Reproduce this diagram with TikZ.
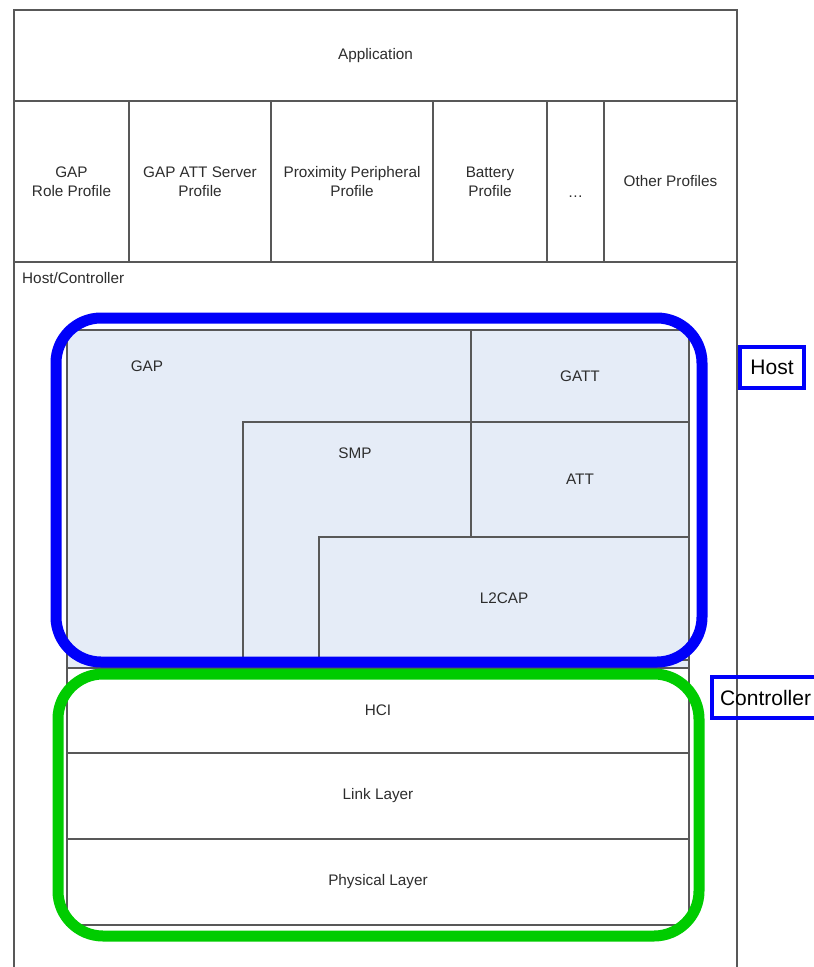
\documentclass[tikz,border=0pt]{standalone}
\usepackage{fontspec}
\setmainfont{Liberation Sans}
\usetikzlibrary{positioning}
\definecolor{framegray}{RGB}{88,88,88}
\definecolor{textgray}{RGB}{45,45,45}
\definecolor{hostfill}{RGB}{229,236,247}
\definecolor{hostblue}{RGB}{0,0,250}
\definecolor{ctrlgreen}{RGB}{0,204,0}

\begin{document}
\begin{tikzpicture}[x=1pt, y=-1pt,
  cell/.style={draw=framegray, line width=1.1pt, inner sep=0pt, outer sep=0pt, anchor=north west,
    font=\fontsize{15.3}{19}\selectfont, text=textgray, align=center, fill=white},
  hostcell/.style={cell, fill=hostfill},
  lbl/.style={font=\fontsize{15.3}{19}\selectfont, text=textgray, inner sep=0pt},
  ring/.style={line width=11pt, rounded corners=45pt},
  tagbox/.style={draw=hostblue, line width=4pt, inner sep=0pt, font=\fontsize{21}{24}\selectfont}
]
\useasboundingbox (0,0) rectangle (814,967);

% outer frame
\node[cell, minimum width=723pt, minimum height=708pt] (hc) at (14,262) {};
\node[lbl, anchor=west] (hclbl) at (22,278) {Host/Controller};

% application and profiles
\node[cell, minimum width=723pt, minimum height=91pt] (app) at (14,10) {Application};
\node[cell, minimum width=115pt, minimum height=161pt] (gaprole) at (14,101) {GAP\\Role Profile};
\node[cell, minimum width=142pt, minimum height=161pt] (gapatt) at (129,101) {GAP ATT Server\\Profile};
\node[cell, minimum width=162pt, minimum height=161pt] (prox) at (271,101) {Proximity Peripheral\\Profile};
\node[cell, minimum width=114pt, minimum height=161pt] (batt) at (433,101) {Battery\\Profile};
\node[cell, minimum width=57pt, minimum height=161pt] (more) at (547,101) {};
\node[lbl] (dots) at (575.5,197) {\dots};
\node[cell, minimum width=133pt, minimum height=161pt] (other) at (604,101) {Other Profiles};

% host layers
\node[hostcell, minimum width=622pt, minimum height=338pt] (gap) at (67,330) {};
\node[lbl] (gaplbl) at ([shift={(80,36)}]gap.north west) {GAP};
\node[hostcell, minimum width=218pt, minimum height=92pt] (gatt) at (471,330) {GATT};
\node[hostcell, minimum width=218pt, minimum height=115pt] (att) at (471,422) {ATT};
\node[hostcell, minimum width=228pt, minimum height=238pt] (smp) at (243,422) {};
\node[lbl] (smplbl) at ([shift={(112,31)}]smp.north west) {SMP};
\node[hostcell, minimum width=370pt, minimum height=123pt] (l2cap) at (319,537) {L2CAP};

% controller layers
\node[cell, minimum width=622pt, minimum height=85pt] (hci) at (67,668) {HCI};
\node[cell, minimum width=622pt, minimum height=86pt] (link) at (67,753) {Link Layer};
\node[cell, minimum width=622pt, minimum height=86pt] (phy) at (67,839) {Physical Layer};

% grouping rings and tags
\draw[ring, hostblue] (56,318) rectangle (702,662);
\draw[ring, ctrlgreen] (58,674) rectangle (699,936);
\node[tagbox, minimum width=64pt, minimum height=41pt] (hosttag) at (772,367.5) {Host};
\node[tagbox, anchor=west, inner xsep=8pt, minimum height=41pt] (ctrltag) at (710,697.5) {Controller};
\end{tikzpicture}
\end{document}
